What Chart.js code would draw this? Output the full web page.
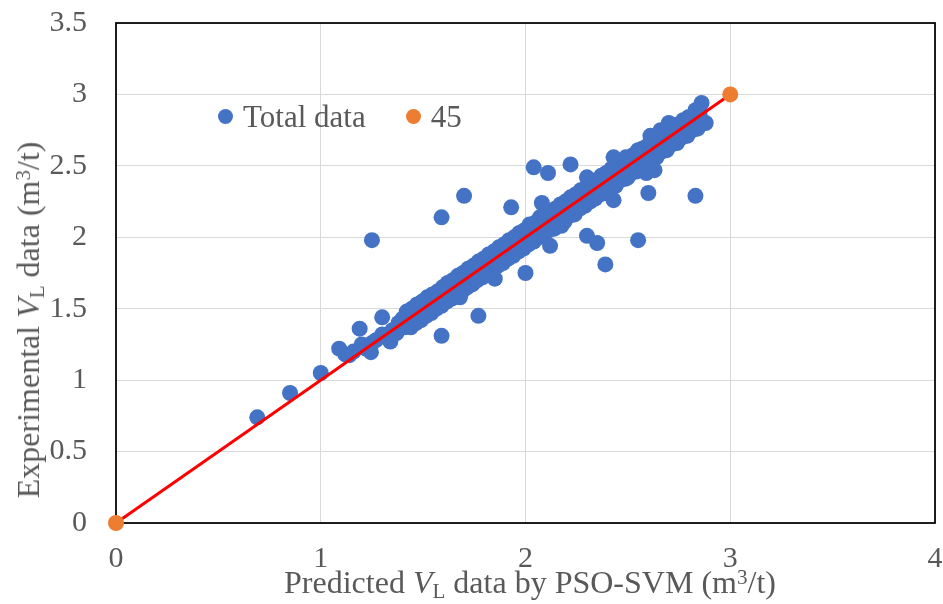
<!DOCTYPE html>
<html>
<head>
<meta charset="utf-8">
<script src="https://cdn.jsdelivr.net/npm/chart.js@4/dist/chart.umd.min.js"></script>
<style>
  body { margin: 0; background: #fff; }
  #wrap { position: relative; width: 943px; height: 604px; overflow: hidden; }
  .txt { position: absolute; font-family: 'Liberation Serif', 'Times New Roman', serif; color: #595959; white-space: nowrap; line-height: 1; }
  .txt sub { font-size: 0.66em; vertical-align: -0.22em; line-height: 0; }
  .txt sup { font-size: 0.66em; vertical-align: 0.42em; line-height: 0; }
  #legend { left: 218px; top: 96px; height: 40px; display: flex; align-items: center; font-size: 31px; }
  #legend .dot { width: 15px; height: 15px; border-radius: 50%; display: inline-block; margin-right: 10px; }
  #xtitle { left: 530px; top: 582px; font-size: 32px; transform: translate(-50%, -50%); }
  #ytitle { left: 28px; top: 320px; font-size: 32px; transform: translate(-50%, -50%) rotate(-90deg); }
</style>
</head>
<body>
<div id="wrap">
  <canvas id="chart" width="943" height="604"></canvas>
  <div id="legend" class="txt">
    <span class="dot" style="background:#4472c4"></span><span>Total data</span>
    <span class="dot" style="background:#ed7d31; margin-left:40px"></span><span>45</span>
  </div>
  <div id="xtitle" class="txt">Predicted <i>V</i><sub>L</sub> data by PSO-SVM (m<sup>3</sup>/t)</div>
  <div id="ytitle" class="txt">Experimental <i>V</i><sub>L</sub> data (m<sup>3</sup>/t)</div>
</div>
<script>
// predicted (x) and experimental (y) VL, m3/t
const predictedVL = [
  0.69, 0.85, 1.00, 1.09, 1.12, 1.14, 1.16, 1.19, 1.20, 1.22, 1.245, 1.25, 1.27, 1.30, 1.30, 1.32, 1.34, 1.35, 1.37, 1.38,
  1.40, 1.41, 1.43, 1.44, 1.46, 1.47, 1.48, 1.50, 1.51, 1.53, 1.54, 1.55, 1.57, 1.58, 1.60, 1.61, 1.63, 1.64, 1.65, 1.67,
  1.68, 1.70, 1.71, 1.72, 1.74, 1.75, 1.77, 1.78, 1.79, 1.81, 1.82, 1.84, 1.85, 1.86, 1.88, 1.89, 1.91, 1.92, 1.93, 1.95,
  1.96, 1.98, 1.99, 2.00, 2.02, 2.03, 2.05, 2.06, 2.07, 2.09, 2.10, 2.12, 2.13, 2.14, 2.16, 2.17, 2.18, 2.20, 2.21, 2.23,
  2.24, 2.25, 2.27, 2.28, 2.30, 2.31, 2.32, 2.34, 2.35, 2.37, 2.38, 2.39, 2.41, 2.42, 2.44, 2.45, 2.46, 2.48, 2.49, 2.51,
  2.52, 2.53, 2.55, 2.56, 2.58, 2.59, 2.60, 2.62, 2.63, 2.65, 2.66, 2.67, 2.69, 2.70, 2.72, 2.73, 2.74, 2.76, 2.77, 2.78,
  2.80, 2.81, 2.82, 2.84, 2.85, 2.86,
  1.42, 1.47, 1.52, 1.57, 1.62, 1.67, 1.72, 1.77, 1.82, 1.87, 1.92, 1.97, 2.02, 2.07, 2.12, 2.17, 2.22, 2.27, 2.32, 2.37,
  2.42, 2.47, 2.52, 2.57, 2.62, 2.67, 2.72, 2.77,
  1.445, 1.495, 1.545, 1.595, 1.645, 1.695, 1.745, 1.795, 1.845, 1.895, 1.945, 1.995, 2.045, 2.095, 2.145, 2.195, 2.245,
  2.295, 2.345, 2.395, 2.445, 2.495, 2.545, 2.595, 2.645, 2.695, 2.745, 2.795,
  1.44, 1.49, 1.54, 1.59, 1.64, 1.69, 1.74, 1.79, 1.84, 1.89, 1.94, 1.99, 2.04, 2.09, 2.14, 2.19, 2.24, 2.29, 2.34, 2.39,
  2.44, 2.49, 2.54, 2.59, 2.64, 2.69, 2.74, 2.79, 2.84,
  1.465, 1.515, 1.565, 1.615, 1.665, 1.715, 1.765, 1.815, 1.865, 1.915, 1.965, 2.015, 2.065, 2.115, 2.165, 2.215, 2.265,
  2.315, 2.365, 2.415, 2.465, 2.515, 2.565, 2.615, 2.665, 2.715, 2.765, 2.815,
  1.25, 1.59, 1.70, 1.93, 2.04, 2.11, 2.22, 2.08, 2.00, 1.85, 1.77, 1.59, 2.12, 1.68, 2.30, 2.35, 2.39, 2.55, 2.43, 2.60,
  2.83, 2.30, 2.43, 2.49, 2.55, 2.59, 2.63, 2.50, 2.86, 2.83, 2.88, 2.79, 2.70, 2.66, 2.61, 2.61, 2.175
];
const experimentalVL = [
  0.74, 0.91, 1.05, 1.22, 1.18, 1.175, 1.20, 1.36, 1.25, 1.22, 1.196, 1.26, 1.28, 1.44, 1.32, 1.30, 1.27, 1.35, 1.33, 1.40,
  1.43, 1.37, 1.45, 1.41, 1.44, 1.48, 1.43, 1.52, 1.47, 1.50, 1.55, 1.51, 1.56, 1.53, 1.62, 1.57, 1.60, 1.66, 1.61, 1.64,
  1.70, 1.66, 1.73, 1.68, 1.71, 1.77, 1.73, 1.80, 1.75, 1.78, 1.84, 1.80, 1.87, 1.82, 1.85, 1.91, 1.87, 1.94, 1.89, 1.92,
  1.98, 1.94, 2.01, 1.96, 2.00, 2.06, 2.01, 2.08, 2.03, 2.06, 2.12, 2.07, 2.15, 2.10, 2.13, 2.19, 2.11, 2.22, 2.17, 2.20,
  2.26, 2.21, 2.29, 2.24, 2.27, 2.33, 2.28, 2.36, 2.31, 2.34, 2.40, 2.35, 2.43, 2.38, 2.41, 2.47, 2.42, 2.50, 2.45, 2.48,
  2.54, 2.49, 2.57, 2.52, 2.55, 2.61, 2.56, 2.64, 2.59, 2.62, 2.68, 2.63, 2.71, 2.66, 2.69, 2.75, 2.70, 2.73, 2.78, 2.73,
  2.76, 2.82, 2.77, 2.80, 2.87, 2.82,
  1.48, 1.53, 1.58, 1.62, 1.68, 1.73, 1.78, 1.83, 1.88, 1.93, 1.98, 2.03, 2.09, 2.14, 2.18, 2.23, 2.28, 2.33, 2.38, 2.43,
  2.48, 2.53, 2.57, 2.62, 2.67, 2.72, 2.77, 2.82,
  1.50, 1.55, 1.60, 1.65, 1.70, 1.75, 1.80, 1.85, 1.90, 1.95, 2.00, 2.05, 2.10, 2.15, 2.20, 2.25, 2.30,
  2.35, 2.40, 2.45, 2.50, 2.55, 2.60, 2.64, 2.69, 2.74, 2.79, 2.84,
  1.37, 1.42, 1.47, 1.52, 1.57, 1.62, 1.67, 1.72, 1.77, 1.82, 1.87, 1.92, 1.97, 2.02, 2.06, 2.11, 2.16, 2.22, 2.27, 2.31,
  2.36, 2.41, 2.46, 2.51, 2.56, 2.61, 2.66, 2.71, 2.76,
  1.40, 1.45, 1.50, 1.55, 1.60, 1.65, 1.70, 1.75, 1.80, 1.85, 1.90, 1.95, 2.00, 2.05, 2.10, 2.15, 2.20,
  2.25, 2.30, 2.35, 2.40, 2.45, 2.50, 2.55, 2.60, 2.65, 2.70, 2.75,
  1.98, 2.14, 2.29, 2.21, 2.49, 2.45, 2.51, 2.24, 1.75, 1.71, 1.45, 1.31, 1.94, 1.58, 2.01, 1.96, 1.81, 1.98, 2.26, 2.31,
  2.29, 2.42, 2.56, 2.56, 2.61, 2.45, 2.47, 2.42, 2.94, 2.89, 2.80, 2.77, 2.80, 2.75, 2.71, 2.56, 2.08
];
// 45 degree reference line
const lineX = [0, 3];
const lineY = [0, 3];

const xTicks = { min: 0, max: 4, step: 1 };
const yTicks = { min: 0, max: 3.5, step: 0.5 };

const tickFont = { family: "'Liberation Serif', 'Times New Roman', serif", size: 30 };

const frame = {
  id: 'frame',
  beforeDatasetsDraw(chart) {
    const { ctx, chartArea: a } = chart;
    ctx.save();
    ctx.strokeStyle = '#000';
    ctx.lineWidth = 1.75;
    ctx.strokeRect(a.left, a.top, a.right - a.left, a.bottom - a.top);
    ctx.restore();
  }
};

new Chart(document.getElementById('chart'), {
  type: 'scatter',
  data: {
    datasets: [
      {
        label: 'Total data',
        data: predictedVL.map((x, i) => ({ x, y: experimentalVL[i] })),
        pointRadius: 8,
        pointBackgroundColor: '#4472c4',
        pointBorderWidth: 0,
        order: 2,
        clip: false
      },
      {
        label: '45',
        data: lineX.map((x, i) => ({ x, y: lineY[i] })),
        showLine: true,
        borderColor: '#ff0000',
        borderWidth: 3,
        pointRadius: 8,
        pointBackgroundColor: '#ed7d31',
        pointBorderWidth: 0,
        order: 1,
        clip: false
      }
    ]
  },
  options: {
    responsive: false,
    animation: false,
    devicePixelRatio: 1,
    layout: { padding: { top: 23, right: 5, bottom: 0, left: 0 } },
    plugins: { legend: { display: false }, tooltip: { enabled: false } },
    scales: {
      x: {
        type: 'linear',
        min: xTicks.min, max: xTicks.max,
        ticks: { stepSize: xTicks.step, font: tickFont, color: '#595959', padding: 18 },
        grid: { color: '#d9d9d9', lineWidth: 1, drawTicks: false },
        border: { display: false },
        afterFit: s => { s.height = 81; s.paddingLeft = 0; s.paddingRight = 0; }
      },
      y: {
        type: 'linear',
        min: yTicks.min, max: yTicks.max,
        ticks: { stepSize: yTicks.step, font: tickFont, color: '#595959', padding: 29, callback: v => String(v) },
        grid: { color: '#d9d9d9', lineWidth: 1, drawTicks: false },
        border: { display: false },
        afterFit: s => { s.width = 116; s.paddingTop = 0; s.paddingBottom = 0; }
      }
    }
  },
  plugins: [frame]
});
</script>
</body>
</html>
